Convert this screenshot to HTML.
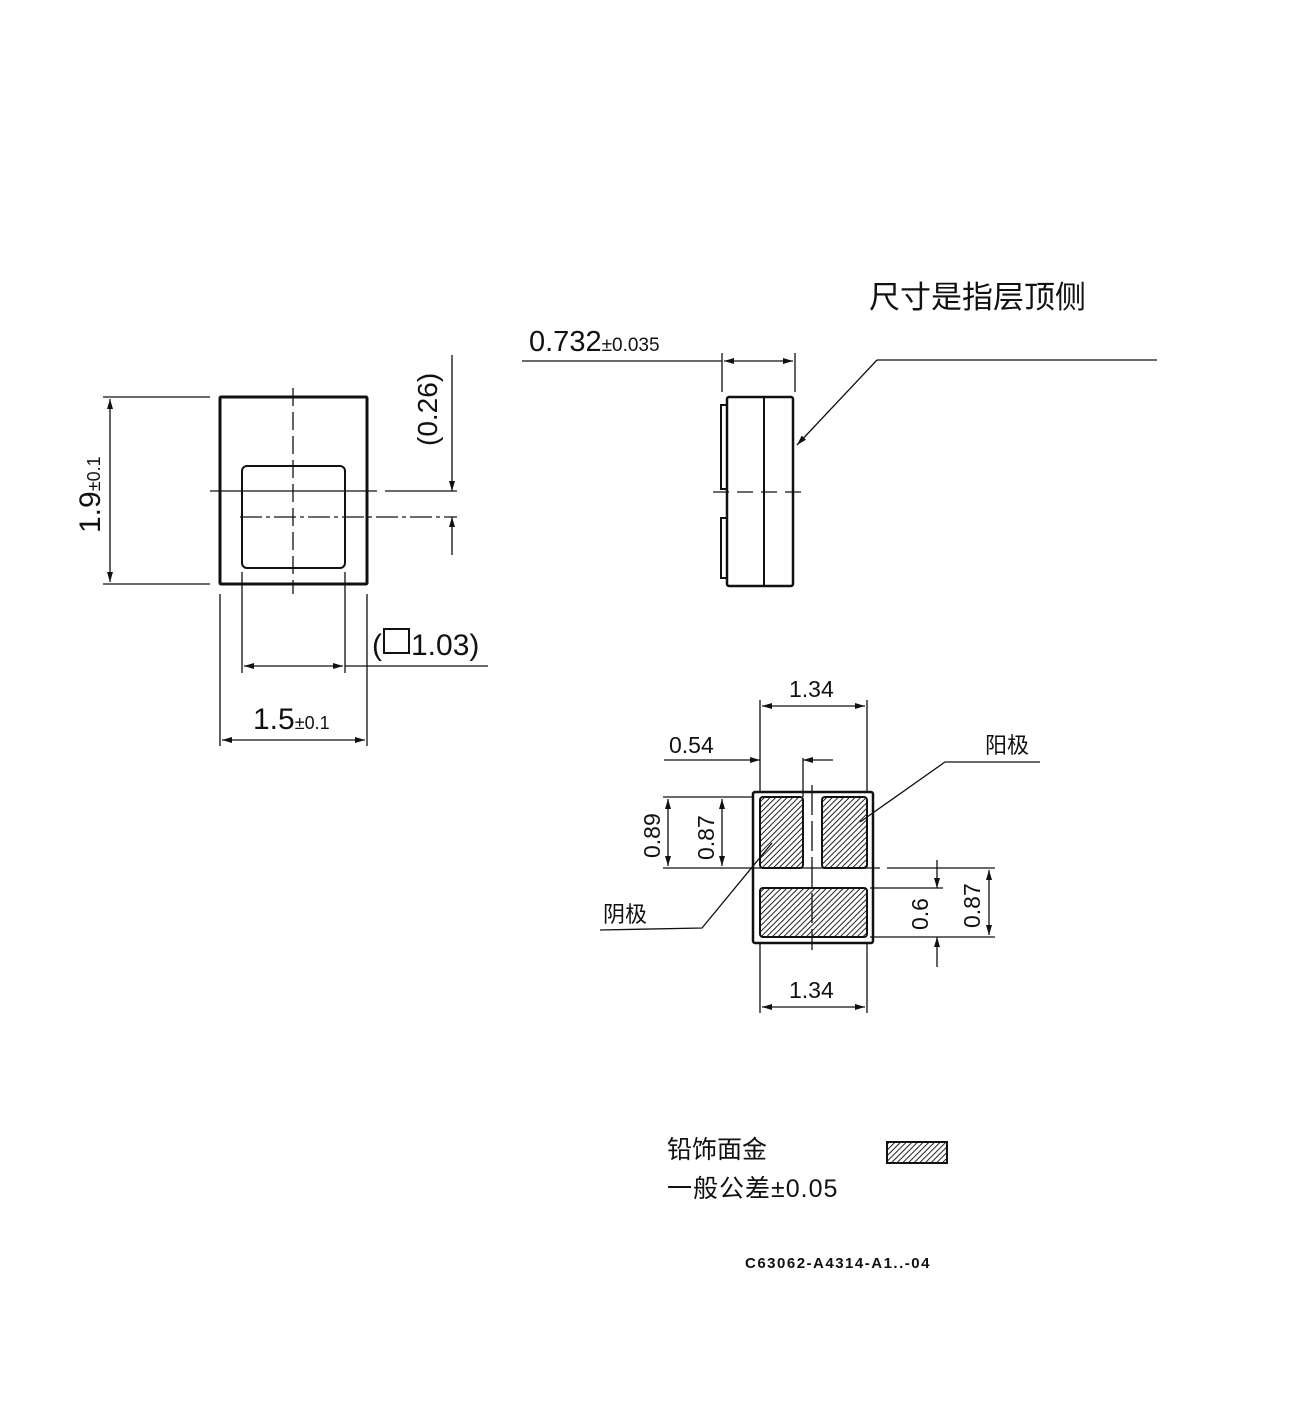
<!DOCTYPE html>
<html><head><meta charset="utf-8"><style>
html,body{margin:0;padding:0;background:#fff;}
svg{display:block;}
text{font-family:"Liberation Sans","Noto Sans CJK SC",sans-serif;fill:#111;}
</style></head><body>
<svg width="1316" height="1406" viewBox="0 0 1316 1406" xmlns="http://www.w3.org/2000/svg">
<defs>
<pattern id="h" width="4" height="4" patternUnits="userSpaceOnUse" patternTransform="rotate(45)">
<rect width="4" height="4" fill="#fff"/><line x1="0" y1="0" x2="0" y2="4" stroke="#222" stroke-width="2"/>
</pattern>
<marker id="a" viewBox="0 0 10 6" refX="10" refY="3" markerWidth="10" markerHeight="6" orient="auto-start-reverse" markerUnits="userSpaceOnUse">
<path d="M0,0 L10,3 L0,6 z" fill="#111"/></marker>
</defs>
<g stroke="#111" fill="none" stroke-width="1.3">
<rect x="220" y="397" width="147" height="187" stroke-width="3" rx="1"/>
<rect x="242" y="466" width="103" height="102" stroke-width="2" rx="5"/>
<line x1="293" y1="388" x2="293" y2="594" stroke-dasharray="18,6"/>
<line x1="210" y1="491" x2="377" y2="491"/>
<line x1="385" y1="491" x2="457" y2="491"/>
<line x1="240" y1="517" x2="457" y2="517" stroke-dasharray="22,4,4,4"/>
<line x1="103" y1="397" x2="210" y2="397"/><line x1="103" y1="584" x2="210" y2="584"/>
<line x1="110" y1="399" x2="110" y2="582" marker-start="url(#a)" marker-end="url(#a)"/>
<line x1="452" y1="355" x2="452" y2="491" marker-end="url(#a)"/>
<line x1="452" y1="555" x2="452" y2="517" marker-end="url(#a)"/>
<line x1="220" y1="594" x2="220" y2="746"/><line x1="367" y1="594" x2="367" y2="746"/>
<line x1="242" y1="572" x2="242" y2="673"/><line x1="345" y1="572" x2="345" y2="673"/>
<line x1="244" y1="666" x2="343" y2="666" marker-start="url(#a)" marker-end="url(#a)"/>
<line x1="345" y1="666" x2="488" y2="666"/>
<line x1="222" y1="740" x2="365" y2="740" marker-start="url(#a)" marker-end="url(#a)"/>
<rect x="384" y="629" width="25" height="24" stroke-width="2"/>
<rect x="727" y="397" width="66" height="189" stroke-width="2.5" rx="2"/>
<line x1="764" y1="397" x2="764" y2="586" stroke-width="2"/>
<rect x="721" y="405" width="6" height="84" stroke-width="2"/>
<rect x="721" y="518" width="6" height="60" stroke-width="2"/>
<line x1="713" y1="492" x2="806" y2="492" stroke-dasharray="16,8"/>
<line x1="722" y1="353" x2="722" y2="392"/><line x1="795" y1="353" x2="795" y2="392"/>
<line x1="522" y1="361" x2="722" y2="361"/>
<line x1="724" y1="361" x2="793" y2="361" marker-start="url(#a)" marker-end="url(#a)"/>
<polyline points="877,360 1157,360"/>
<line x1="877" y1="360" x2="797" y2="445" marker-end="url(#a)"/>
<rect x="753" y="792" width="120" height="151" stroke-width="2.5" rx="2"/>
<rect x="760" y="797" width="43" height="71" rx="3" fill="url(#h)" stroke-width="2"/>
<rect x="822" y="797" width="45" height="71" rx="3" fill="url(#h)" stroke-width="2"/>
<rect x="760" y="888" width="107" height="49" rx="3" fill="url(#h)" stroke-width="2"/>
<line x1="812" y1="785" x2="812" y2="950" stroke-dasharray="30,6"/>
<line x1="760" y1="700" x2="760" y2="792"/><line x1="867" y1="700" x2="867" y2="792"/>
<line x1="762" y1="706" x2="865" y2="706" marker-start="url(#a)" marker-end="url(#a)"/>
<line x1="664" y1="760" x2="760" y2="760" marker-end="url(#a)"/>
<line x1="833" y1="760" x2="803" y2="760" marker-end="url(#a)"/>
<line x1="803" y1="758" x2="803" y2="797"/>
<line x1="663" y1="797" x2="753" y2="797"/>
<line x1="663" y1="868" x2="880" y2="868"/><line x1="887" y1="868" x2="995" y2="868"/>
<line x1="668" y1="799" x2="668" y2="866" marker-start="url(#a)" marker-end="url(#a)"/>
<line x1="722" y1="799" x2="722" y2="866" marker-start="url(#a)" marker-end="url(#a)"/>
<line x1="870" y1="888" x2="943" y2="888"/><line x1="870" y1="937" x2="995" y2="937"/>
<line x1="937" y1="860" x2="937" y2="888" marker-end="url(#a)"/>
<line x1="937" y1="967" x2="937" y2="937" marker-end="url(#a)"/>
<line x1="989" y1="870" x2="989" y2="935" marker-start="url(#a)" marker-end="url(#a)"/>
<line x1="760" y1="943" x2="760" y2="1013"/><line x1="867" y1="943" x2="867" y2="1013"/>
<line x1="762" y1="1007" x2="865" y2="1007" marker-start="url(#a)" marker-end="url(#a)"/>
<polyline points="860,822 945,762 1040,762"/>
<polyline points="772,843 702,928 600,930"/>
<rect x="887" y="1142" width="60" height="21" fill="url(#h)" stroke-width="2"/>
</g>
<text x="0" y="0" font-size="30" transform="translate(100,533) rotate(-90)">1.9<tspan font-size="18">±0.1</tspan></text>
<text x="0" y="0" font-size="28" transform="translate(437,446) rotate(-90)">(0.26)</text>
<text x="372" y="655" font-size="30">(</text>
<text x="411" y="655" font-size="30">1.03)</text>
<text x="253" y="729" font-size="30">1.5<tspan font-size="18">±0.1</tspan></text>
<text x="529" y="351" font-size="29">0.732<tspan font-size="19">±0.035</tspan></text>
<text x="869" y="308" font-size="31">尺寸是指层顶侧</text>
<text x="789" y="697" font-size="23">1.34</text>
<text x="669" y="753" font-size="23">0.54</text>
<text x="985" y="753" font-size="22">阳极</text>
<text x="603" y="922" font-size="22">阴极</text>
<text x="0" y="0" font-size="23" transform="translate(660,858) rotate(-90)">0.89</text>
<text x="0" y="0" font-size="23" transform="translate(714,860) rotate(-90)">0.87</text>
<text x="0" y="0" font-size="23" transform="translate(928,930) rotate(-90)">0.6</text>
<text x="0" y="0" font-size="23" transform="translate(980,928) rotate(-90)">0.87</text>
<text x="789" y="998" font-size="23">1.34</text>
<text x="667" y="1158" font-size="25">铅饰面金</text>
<text x="667" y="1197" font-size="25" letter-spacing="1">一般公差±0.05</text>
<text x="745" y="1268" font-size="15" font-weight="bold" letter-spacing="1.5">C63062-A4314-A1..-04</text>
</svg>
</body></html>
